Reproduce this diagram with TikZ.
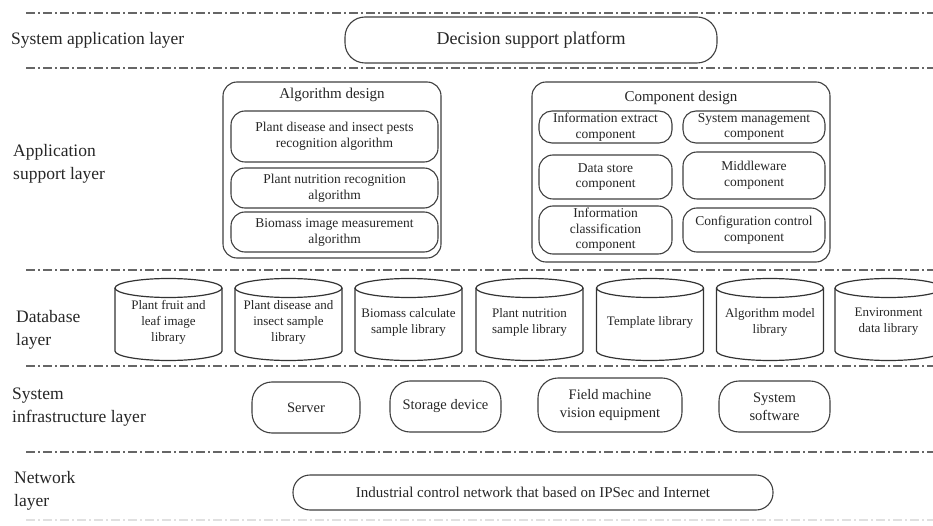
\documentclass[tikz,border=0pt]{standalone}
\usepackage{fontspec}
\setmainfont{Liberation Serif}
\begin{document}
\begin{tikzpicture}[x=1pt,y=-1pt,
  sep/.style={draw=black!60, line width=1.2pt, dash pattern=on 9pt off 3pt on 2pt off 3pt},
  lbl/.style={anchor=west, align=left, inner sep=0pt, text=black!85, font=\fontsize{17.5}{23}\selectfont},
  rbox/.style={draw=black!75, line width=1.1pt, rounded corners=14pt, align=center, inner sep=0pt, text=black!85},
  small/.style={font=\fontsize{13.5}{16}\selectfont},
  comp/.style={font=\fontsize{13.5}{15.5}\selectfont},
  title/.style={inner sep=0pt, text=black!85, font=\fontsize{15}{18}\selectfont},
  infra/.style={rbox, rounded corners=20pt, font=\fontsize{14.5}{18}\selectfont},
  cyl/.style={draw=black!80, line width=1.2pt},
  ctext/.style={align=center, inner sep=0pt, text=black!85, font=\fontsize{13}{16}\selectfont}]
\useasboundingbox (0,0) rectangle (933,526);
\fill[white] (0,0) rectangle (933,526);

% layer separators
\coordinate (s1a) at (26,13);  \coordinate (s1b) at (933,13);
\coordinate (s2a) at (26,68);  \coordinate (s2b) at (933,68);
\coordinate (s3a) at (26,270); \coordinate (s3b) at (933,270);
\coordinate (s4a) at (26,366); \coordinate (s4b) at (933,366);
\coordinate (s5a) at (26,452); \coordinate (s5b) at (933,452);
\coordinate (s6a) at (26,520); \coordinate (s6b) at (933,520);
\draw[sep] (s1a) -- (s1b);
\draw[sep] (s2a) -- (s2b);
\draw[sep] (s3a) -- (s3b);
\draw[sep] (s4a) -- (s4b);
\draw[sep] (s5a) -- (s5b);
\draw[sep, draw=black!12] (s6a) -- (s6b);

% layer labels
\node[lbl] (l1) at (11,40) {System application layer};
\node[lbl] (l2) at (13,164) {Application\\support layer};
\node[lbl] (l3) at (16,330) {Database\\layer};
\node[lbl] (l4) at (12,407) {System\\infrastructure layer};
\node[lbl] (l5) at (14,491) {Network\\layer};

% system application layer
\node[rbox, rounded corners=20pt, minimum width=372, minimum height=46,
      font=\fontsize{18}{22}\selectfont] (dsp) at (531,40) {Decision support platform};

% algorithm design
\node[rbox, minimum width=218, minimum height=176] (alg) at (332,170) {};
\node[title] (algt) at (332,95) {Algorithm design};
\node[rbox, small, minimum width=207, minimum height=51] (a1) at (334.5,136.5)
  {Plant disease and insect pests\\recognition algorithm};
\node[rbox, small, minimum width=207, minimum height=40] (a2) at (334.5,188)
  {Plant nutrition recognition\\algorithm};
\node[rbox, small, minimum width=207, minimum height=40] (a3) at (334.5,232)
  {Biomass image measurement\\algorithm};

% component design
\node[rbox, minimum width=298, minimum height=180] (cmp) at (681,172) {};
\node[title] (cmpt) at (681,98) {Component design};
\node[rbox, comp, rounded corners=13pt, minimum width=133, minimum height=32] (c1) at (605.5,127)
  {Information extract\\component};
\node[rbox, comp, rounded corners=13pt, minimum width=142, minimum height=32] (c2) at (754,127)
  {System management\\component};
\node[rbox, comp, minimum width=133, minimum height=44] (c3) at (605.5,177)
  {Data store\\component};
\node[rbox, comp, minimum width=142, minimum height=47] (c4) at (754,175.5)
  {Middleware\\component};
\node[rbox, comp, minimum width=133, minimum height=48] (c5) at (605.5,230)
  {Information\\classification\\component};
\node[rbox, comp, minimum width=142, minimum height=44] (c6) at (754,230)
  {Configuration control\\component};

% database layer
\foreach \cx/\nm/\txt in {
  168.5/db1/{Plant fruit and\\leaf image\\library},
  288.5/db2/{Plant disease and\\insect sample\\library},
  408.5/db3/{Biomass calculate\\sample library},
  529.5/db4/{Plant nutrition\\sample library},
  650/db5/{Template library},
  770/db6/{Algorithm model\\library},
  888.5/db7/{Environment\\data library}}{
  \draw[cyl] (\cx-53.5,288) -- (\cx-53.5,351)
     arc[start angle=180, end angle=0, x radius=53.5, y radius=9.5] -- (\cx+53.5,288);
  \draw[cyl] (\cx,288) ellipse[x radius=53.5, y radius=9.5];
  \node[ctext] (\nm) at (\cx,322) {\txt};
}

% infrastructure layer
\node[infra, minimum width=108, minimum height=51] (srv) at (306,407.5) {Server};
\node[infra, minimum width=111, minimum height=51] (sto) at (445.5,406.5) {Storage device};
\node[infra, minimum width=144, minimum height=54] (fmv) at (610,405) {Field machine\\vision equipment};
\node[infra, minimum width=111, minimum height=51] (sws) at (774.5,406.5) {System\\software};

% network layer
\node[rbox, rounded corners=17pt, minimum width=480, minimum height=35,
      font=\fontsize{15}{18}\selectfont] (net) at (533,492.5)
  {Industrial control network that based on IPSec and Internet};
\end{tikzpicture}
\end{document}
